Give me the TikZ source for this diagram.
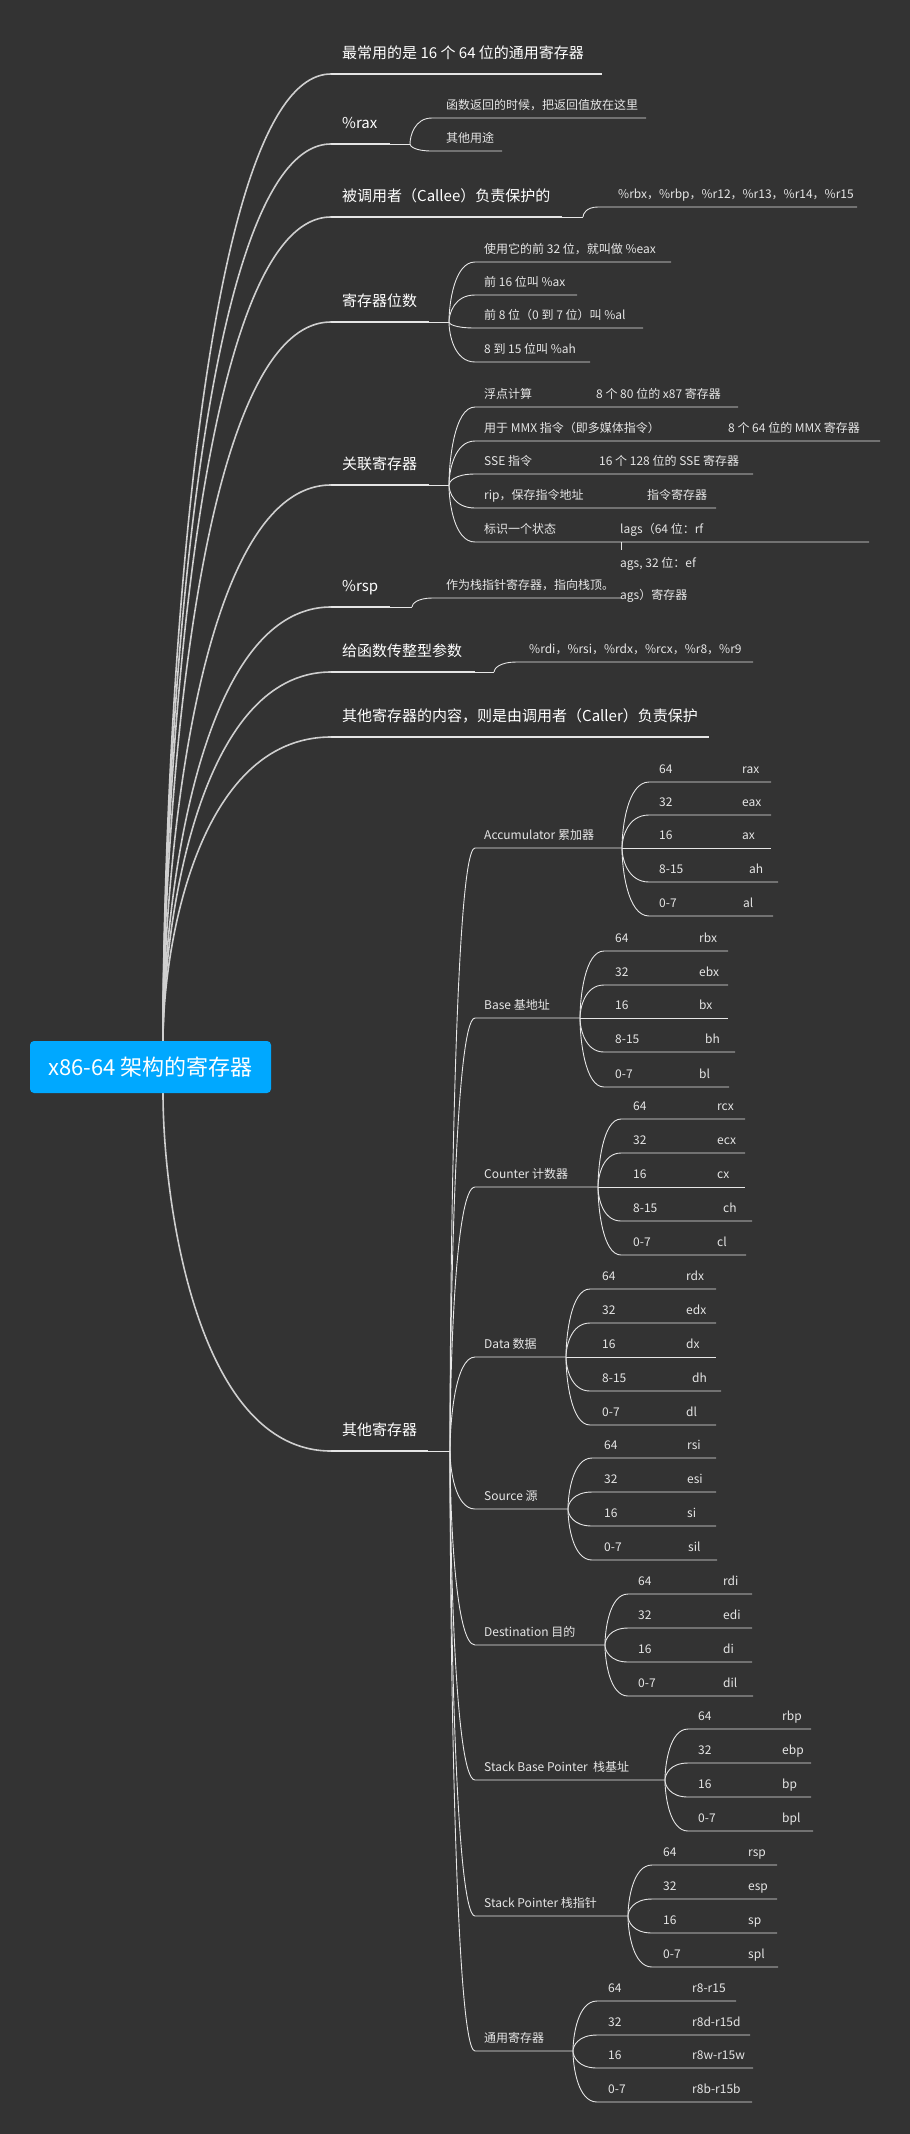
\documentclass[tikz,border=0pt]{standalone}
\usepackage{fontspec}
\setmainfont{Noto Sans CJK SC}
\usetikzlibrary{calc}

\definecolor{canvas}{HTML}{333333}
\definecolor{rootblue}{HTML}{00A8FF}
\definecolor{ink}{HTML}{E6E6E6}

\tikzset{
  main/.style={anchor=base west, inner sep=0pt, text=white, font=\fontsize{15}{18}\selectfont},
  sub/.style={anchor=base west, inner sep=0pt, text=ink, font=\fontsize{12}{14}\selectfont},
  bar/.style={draw=ink, line width=2pt},
  twig/.style={draw=ink, line width=0.9pt},
  stem/.style={draw=ink!90!black, line width=1.6pt},
  branch/.style={to path={.. controls ($(\tikztostart)!0.3!(\tikztostart|-\tikztotarget)$) and ($(\tikztostart|-\tikztotarget)!0.2!(\tikztotarget)$) .. (\tikztotarget)}},
}

\begin{document}
\begin{tikzpicture}[x=1pt, y=-1pt]
	\useasboundingbox (0,0) rectangle (910,2134);
	\fill[canvas] (0,0) rectangle (910,2134);
	\coordinate (root-t) at (163,1041);
	\coordinate (root-b) at (163,1093);

	% 最常用的是 16 个 64 位的通用寄存器
	\path (331,74) coordinate (gp-s) (602,74) coordinate (gp-e);
	\node[main] (gp) at (342,58) {最常用的是 16 个 64 位的通用寄存器};
	\draw[bar] (gp-s) -- (gp-e);
	\draw[stem] (root-t) to[branch] (gp-s);

	% %rax
	\path (331,144) coordinate (rax-s) (390,144) coordinate (rax-e) (410,144) coordinate (rax-x);
	\node[main] (rax) at (342,128) {\%rax};
	\draw[bar] (rax-s) -- (rax-e);
	\draw[stem] (root-t) to[branch] (rax-s);
	\draw[twig] (rax-e) -- (rax-x);
	\path (432,118) coordinate (ret-s) (646,118) coordinate (ret-e) (432,151) coordinate (use-s) (502,151) coordinate (use-e);
	\node[sub] (ret) at (446,109) {函数返回的时候，把返回值放在这里};
	\node[sub] (use) at (446,142) {其他用途};
	\draw[twig] (rax-x) to[branch] (ret-s) -- (ret-e);
	\draw[twig] (rax-x) to[branch] (use-s) -- (use-e);

	% 被调用者（Callee）负责保护的
	\path (331,217) coordinate (callee-s) (562,217) coordinate (callee-e) (583,217) coordinate (callee-x);
	\node[main] (callee) at (342,201) {被调用者（Callee）负责保护的};
	\draw[bar] (callee-s) -- (callee-e);
	\draw[stem] (root-t) to[branch] (callee-s);
	\draw[twig] (callee-e) -- (callee-x);
	\path (598,207) coordinate (saved-s) (857,207) coordinate (saved-e);
	\node[sub] (saved) at (618,198) {\%rbx，\%rbp，\%r12，\%r13，\%r14，\%r15};
	\draw[twig] (callee-x) to[branch] (saved-s) -- (saved-e);

	% 寄存器位数
	\path (331,322) coordinate (bits-s) (429,322) coordinate (bits-e) (449,322) coordinate (bits-x);
	\node[main] (bits) at (342,306) {寄存器位数};
	\draw[bar] (bits-s) -- (bits-e);
	\draw[stem] (root-t) to[branch] (bits-s);
	\draw[twig] (bits-e) -- (bits-x);
	\foreach \y/\t/\ex [count=\i] in {262/{使用它的前 32 位，就叫做 \%eax}/671, 295/{前 16 位叫 \%ax}/577, 328/{前 8 位（0 到 7 位）叫 \%al}/643, 362/{8 到 15 位叫 \%ah}/590}{
		\path (475,\y) coordinate (bits\i-s) (\ex,\y) coordinate (bits\i-e);
		\node[sub] (bits\i) at (484,\y-9) {\t};
		\draw[twig] (bits-x) to[branch] (bits\i-s) -- (bits\i-e);
	}

	% 关联寄存器
	\path (331,485) coordinate (rel-s) (429,485) coordinate (rel-e) (449,485) coordinate (rel-x);
	\node[main] (rel) at (342,469) {关联寄存器};
	\draw[bar] (rel-s) -- (rel-e);
	\draw[stem] (root-t) to[branch] (rel-s);
	\draw[twig] (rel-e) -- (rel-x);
	\foreach \y/\t/\u/\ux/\ex [count=\i] in {407/浮点计算/{8 个 80 位的 x87 寄存器}/596/738, 441/{用于 MMX 指令（即多媒体指令）}/{8 个 64 位的 MMX 寄存器}/728/880, 474/{SSE 指令}/{16 个 128 位的 SSE 寄存器}/599/753, 508/{rip，保存指令地址}/指令寄存器/647/716, 542/标识一个状态/{lags（64 位：rf}/620/869}{
		\path (475,\y) coordinate (rel\i-s) (\ex,\y) coordinate (rel\i-e);
		\node[sub] (rel\i) at (484,\y-9) {\t};
		\node[sub] (rel\i-b) at (\ux,\y-9) {\u};
		\draw[twig] (rel-x) to[branch] (rel\i-s) -- (rel\i-e);
	}
	\node[sub] (flag2) at (620,567) {ags, 32 位：ef};
	\node[sub] (flag3) at (620,599.5) {ags）寄存器};
	\path (621,542) coordinate (tick-a) (621,550) coordinate (tick-b);
	\draw[twig] (tick-a) -- (tick-b);

	% %rsp
	\path (331,607) coordinate (rsp-s) (390,607) coordinate (rsp-e) (412,607) coordinate (rsp-x);
	\node[main] (rsp) at (342,591) {\%rsp};
	\draw[bar] (rsp-s) -- (rsp-e);
	\draw[stem] (root-t) to[branch] (rsp-s);
	\draw[twig] (rsp-e) -- (rsp-x);
	\path (433,598) coordinate (top-s) (621,598) coordinate (top-e);
	\node[sub] (top) at (446,589) {作为栈指针寄存器，指向栈顶。};
	\draw[twig] (rsp-x) to[branch] (top-s) -- (top-e);

	% 给函数传整型参数
	\path (331,672) coordinate (arg-s) (475,672) coordinate (arg-e) (494,672) coordinate (arg-x);
	\node[main] (arg) at (342,656) {给函数传整型参数};
	\draw[bar] (arg-s) -- (arg-e);
	\draw[stem] (root-t) to[branch] (arg-s);
	\draw[twig] (arg-e) -- (arg-x);
	\path (517,662) coordinate (args-s) (753,662) coordinate (args-e);
	\node[sub] (args) at (529,653) {\%rdi，\%rsi，\%rdx，\%rcx，\%r8，\%r9};
	\draw[twig] (arg-x) to[branch] (args-s) -- (args-e);

	% 其他寄存器的内容，则是由调用者（Caller）负责保护
	\path (331,737) coordinate (caller-s) (709,737) coordinate (caller-e);
	\node[main] (caller) at (342,721) {其他寄存器的内容，则是由调用者（Caller）负责保护};
	\draw[bar] (caller-s) -- (caller-e);
	\draw[stem] (root-t) to[branch] (caller-s);

	% 其他寄存器
	\path (331,1451) coordinate (oth-s) (428,1451) coordinate (oth-e) (450,1451) coordinate (oth-x);
	\node[main] (oth) at (342,1435) {其他寄存器};
	\draw[bar] (oth-s) -- (oth-e);
	\draw[stem] (root-b) to[branch] (oth-s);
	\draw[twig] (oth-e) -- (oth-x);

	% Accumulator 累加器
	\path (475,848) coordinate (acc-s) (622,848) coordinate (acc-e);
	\node[sub] (acc) at (484,839) {Accumulator 累加器};
	\draw[twig] (oth-x) to[branch] (acc-s) -- (acc-e);
	\foreach \y/\n/\r/\rx/\ex [count=\i] in {782/64/rax/742/771, 815/32/eax/742/771, 848/16/ax/742/771, 882/8-15/ah/749/778, 916/0-7/al/743/773}{
		\path (649,\y) coordinate (acc\i-s) (\ex,\y) coordinate (acc\i-e);
		\node[sub] (acc\i) at (659,\y-9) {\n};
		\node[sub] (acc\i-r) at (\rx,\y-9) {\r};
		\draw[twig] (acc-e) to[branch] (acc\i-s) -- (acc\i-e);
	}

	% Base 基地址
	\path (475,1018) coordinate (base-s) (580,1018) coordinate (base-e);
	\node[sub] (base) at (484,1009) {Base 基地址};
	\draw[twig] (oth-x) to[branch] (base-s) -- (base-e);
	\foreach \y/\n/\r/\rx/\ex [count=\i] in {951/64/rbx/699/728, 985/32/ebx/699/728, 1018/16/bx/699/728, 1052/8-15/bh/705/735, 1087/0-7/bl/699/729}{
		\path (604,\y) coordinate (base\i-s) (\ex,\y) coordinate (base\i-e);
		\node[sub] (base\i) at (615,\y-9) {\n};
		\node[sub] (base\i-r) at (\rx,\y-9) {\r};
		\draw[twig] (base-e) to[branch] (base\i-s) -- (base\i-e);
	}

	% Counter 计数器
	\path (475,1187) coordinate (cnt-s) (598,1187) coordinate (cnt-e);
	\node[sub] (cnt) at (484,1178) {Counter 计数器};
	\draw[twig] (oth-x) to[branch] (cnt-s) -- (cnt-e);
	\foreach \y/\n/\r/\rx/\ex [count=\i] in {1119/64/rcx/717/745, 1153/32/ecx/717/745, 1187/16/cx/717/745, 1221/8-15/ch/723/752, 1255/0-7/cl/717/746}{
		\path (621,\y) coordinate (cnt\i-s) (\ex,\y) coordinate (cnt\i-e);
		\node[sub] (cnt\i) at (633,\y-9) {\n};
		\node[sub] (cnt\i-r) at (\rx,\y-9) {\r};
		\draw[twig] (cnt-e) to[branch] (cnt\i-s) -- (cnt\i-e);
	}

	% Data 数据
	\path (475,1357) coordinate (data-s) (566,1357) coordinate (data-e);
	\node[sub] (data) at (484,1348) {Data 数据};
	\draw[twig] (oth-x) to[branch] (data-s) -- (data-e);
	\foreach \y/\n/\r/\rx/\ex [count=\i] in {1289/64/rdx/686/716, 1323/32/edx/686/716, 1357/16/dx/686/716, 1391/8-15/dh/692/721, 1425/0-7/dl/686/716}{
		\path (590,\y) coordinate (data\i-s) (\ex,\y) coordinate (data\i-e);
		\node[sub] (data\i) at (602,\y-9) {\n};
		\node[sub] (data\i-r) at (\rx,\y-9) {\r};
		\draw[twig] (data-e) to[branch] (data\i-s) -- (data\i-e);
	}

	% Source 源
	\path (475,1509) coordinate (src-s) (568,1509) coordinate (src-e);
	\node[sub] (src) at (484,1500) {Source 源};
	\draw[twig] (oth-x) to[branch] (src-s) -- (src-e);
	\foreach \y/\n/\r/\rx/\ex [count=\i] in {1458/64/rsi/687/716, 1492/32/esi/687/716, 1526/16/si/687/716, 1560/0-7/sil/688/717}{
		\path (592,\y) coordinate (src\i-s) (\ex,\y) coordinate (src\i-e);
		\node[sub] (src\i) at (604,\y-9) {\n};
		\node[sub] (src\i-r) at (\rx,\y-9) {\r};
		\draw[twig] (src-e) to[branch] (src\i-s) -- (src\i-e);
	}

	% Destination 目的
	\path (475,1645) coordinate (dst-s) (605,1645) coordinate (dst-e);
	\node[sub] (dst) at (484,1636) {Destination 目的};
	\draw[twig] (oth-x) to[branch] (dst-s) -- (dst-e);
	\foreach \y/\n/\r/\rx/\ex [count=\i] in {1594/64/rdi/723/752, 1628/32/edi/723/752, 1662/16/di/723/752, 1696/0-7/dil/723/753}{
		\path (628,\y) coordinate (dst\i-s) (\ex,\y) coordinate (dst\i-e);
		\node[sub] (dst\i) at (638,\y-9) {\n};
		\node[sub] (dst\i-r) at (\rx,\y-9) {\r};
		\draw[twig] (dst-e) to[branch] (dst\i-s) -- (dst\i-e);
	}

	% Stack Base Pointer 栈基址
	\path (475,1780) coordinate (sbp-s) (665,1780) coordinate (sbp-e);
	\node[sub] (sbp) at (484,1771) {Stack Base Pointer \ 栈基址};
	\draw[twig] (oth-x) to[branch] (sbp-s) -- (sbp-e);
	\foreach \y/\n/\r/\rx/\ex [count=\i] in {1729/64/rbp/782/811, 1763/32/ebp/782/811, 1797/16/bp/782/811, 1831/0-7/bpl/782/813}{
		\path (688,\y) coordinate (sbp\i-s) (\ex,\y) coordinate (sbp\i-e);
		\node[sub] (sbp\i) at (698,\y-9) {\n};
		\node[sub] (sbp\i-r) at (\rx,\y-9) {\r};
		\draw[twig] (sbp-e) to[branch] (sbp\i-s) -- (sbp\i-e);
	}

	% Stack Pointer 栈指针
	\path (475,1916) coordinate (sp-s) (628,1916) coordinate (sp-e);
	\node[sub] (sp) at (484,1907) {Stack Pointer 栈指针};
	\draw[twig] (oth-x) to[branch] (sp-s) -- (sp-e);
	\foreach \y/\n/\r/\rx/\ex [count=\i] in {1865/64/rsp/748/777, 1899/32/esp/748/777, 1933/16/sp/748/777, 1967/0-7/spl/748/778}{
		\path (652,\y) coordinate (sp\i-s) (\ex,\y) coordinate (sp\i-e);
		\node[sub] (sp\i) at (663,\y-9) {\n};
		\node[sub] (sp\i-r) at (\rx,\y-9) {\r};
		\draw[twig] (sp-e) to[branch] (sp\i-s) -- (sp\i-e);
	}

	% 通用寄存器
	\path (475,2051) coordinate (gen-s) (573,2051) coordinate (gen-e);
	\node[sub] (gen) at (484,2042) {通用寄存器};
	\draw[twig] (oth-x) to[branch] (gen-s) -- (gen-e);
	\foreach \y/\n/\r/\rx/\ex [count=\i] in {2001/64/r8-r15/692/736, 2035/32/r8d-r15d/692/750, 2068/16/r8w-r15w/692/753, 2102/0-7/r8b-r15b/692/752}{
		\path (597,\y) coordinate (gen\i-s) (\ex,\y) coordinate (gen\i-e);
		\node[sub] (gen\i) at (608,\y-9) {\n};
		\node[sub] (gen\i-r) at (\rx,\y-9) {\r};
		\draw[twig] (gen-e) to[branch] (gen\i-s) -- (gen\i-e);
	}

	% Root
	\node[fill=rootblue, rounded corners=4pt, minimum width=241pt, minimum height=52pt, text=white, font=\fontsize{22}{26}\selectfont] (root) at (150.5,1067) {x86-64 架构的寄存器};
\end{tikzpicture}
\end{document}
